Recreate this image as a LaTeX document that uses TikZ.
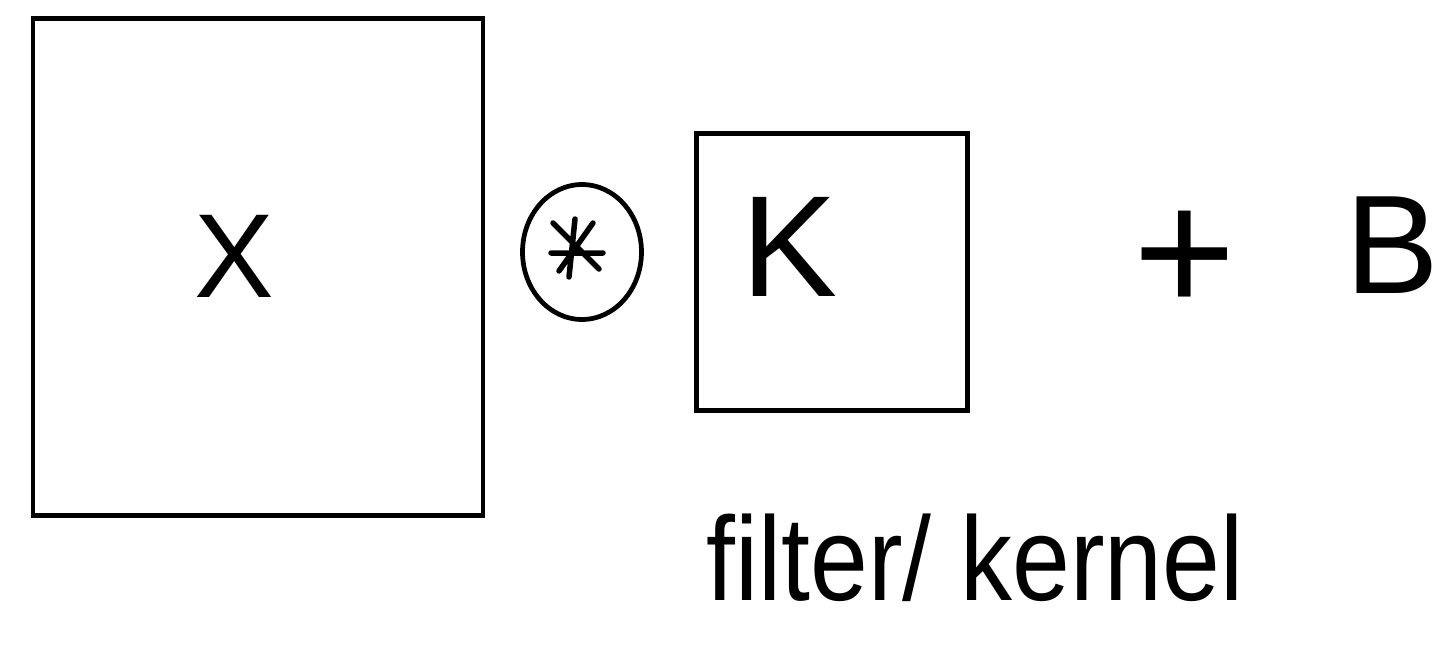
\documentclass[tikz,border=0pt]{standalone}
\usepackage{fontspec}
\setmainfont{Liberation Sans}
\usetikzlibrary{shapes.geometric,calc}
\begin{document}
\begin{tikzpicture}[x=0.02cm,y=-0.02cm,
  stroke/.style={draw=black,line width=0.095cm},
  matbox/.style={stroke,rectangle,inner sep=0pt},
  opcircle/.style={stroke,ellipse,inner sep=0pt,minimum width=2.38cm,minimum height=2.7cm},
  bigletter/.style={inner sep=0pt,font=\fontsize{#1}{#1}\selectfont}
]
\useasboundingbox (0,0) rectangle (1445,659);
% big input matrix
\node[matbox,minimum width=9.0cm,minimum height=9.94cm] (xbox) at (258,267) {};
\node[bigletter=68pt] (xlab) at (234,256) {X};
% convolution operator
\node[opcircle] (conv) at (582,252) {};
\coordinate (ast) at (577,253);
\draw[line width=0.11cm,line cap=round] ($(ast)+(-26,0)$) -- ($(ast)+(26,0)$)
  ($(ast)+(-2,-34)$) -- ($(ast)+(-8,24)$)
  ($(ast)+(-24,-30)$) -- ($(ast)+(22,16)$)
  ($(ast)+(16,-30)$) -- ($(ast)+(-18,18)$);
% kernel
\node[matbox,minimum width=5.42cm,minimum height=5.54cm] (kbox) at (832,272) {};
\node[bigletter=82pt] (klab) at (790,247) {K};
% plus bias
\node[bigletter=100pt] (plus) at (1185,262) {+};
\node[bigletter=80pt] (blab) at (1392,245) {B};
% caption
\node[bigletter=68pt,anchor=base,xscale=0.87] (cap) at (975,600) {filter/ kernel};
\end{tikzpicture}
\end{document}
